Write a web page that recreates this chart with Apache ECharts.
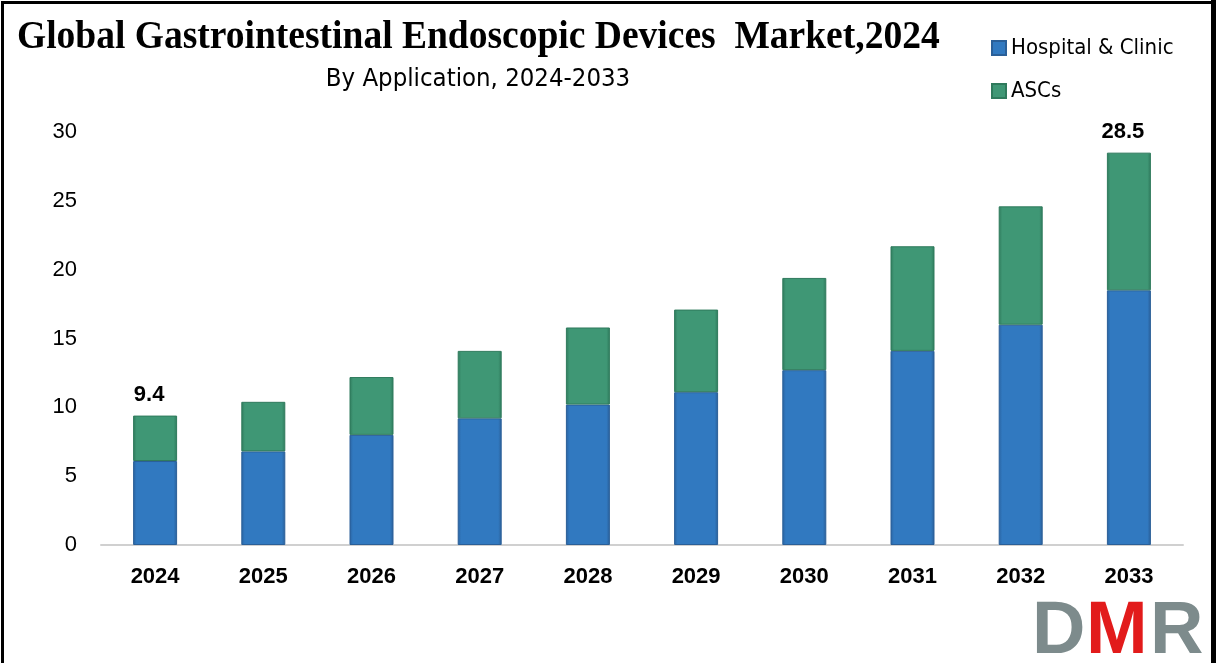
<!DOCTYPE html>
<html><head><meta charset="utf-8">
<script src="https://cdn.jsdelivr.net/npm/echarts@6/dist/echarts.min.js"></script>
<style>html,body{margin:0;padding:0;background:#fff}#c{width:1216px;height:663px}</style>
</head><body><div id="c"></div>
<script>
const years = ['2024','2025','2026','2027','2028','2029','2030','2031','2032','2033'];
const hospitalClinic = [6.1, 6.8, 8.0, 9.2, 10.2, 11.1, 12.7, 14.1, 16.0, 18.5];
const ascs = [3.3, 3.6, 4.2, 4.9, 5.6, 6.0, 6.7, 7.6, 8.6, 10.0];
const yTicks = [0, 5, 10, 15, 20, 25, 30];
const labeledYears = ['2024', '2033'];
const titleText = 'Global Gastrointestinal Endoscopic Devices  Market,2024';
const subtitleText = 'By Application, 2024-2033';

const chart = echarts.init(document.getElementById('c'));
const blueGrad = new echarts.graphic.LinearGradient(0,0,1,0,[
  {offset:0,color:'#2a63a0'},{offset:0.08,color:'#3179c0'},{offset:0.92,color:'#3179c0'},{offset:1,color:'#2a5f98'}]);
const greenGrad = new echarts.graphic.LinearGradient(0,0,1,0,[
  {offset:0,color:'#2f7a5c'},{offset:0.08,color:'#3f9775'},{offset:0.92,color:'#3f9775'},{offset:1,color:'#2f7a5c'}]);
chart.setOption({
  animation:false,
  backgroundColor:'#fff',
  legend:{
    orient:'vertical', left:991, top:37, itemGap:21, padding:0,
    itemWidth:14, itemHeight:14, icon:'rect',
    textStyle:{fontFamily:'DejaVu Sans Condensed',fontSize:22,color:'#000'},
    data:['Hospital & Clinic','ASCs']
  },
  grid:{left:101, right:33, top:132, bottom:118, containLabel:false},
  xAxis:{
    type:'category', data:years,
    axisLine:{lineStyle:{color:'#d0d0d0',width:2}},
    axisTick:{show:false},
    axisLabel:{fontFamily:'Liberation Sans',fontWeight:'bold',fontSize:22,color:'#000',margin:21}
  },
  yAxis:{
    type:'value', min:0, max:30, interval:5,
    axisLine:{show:false}, axisTick:{show:false}, splitLine:{show:false},
    axisLabel:{fontFamily:'Liberation Sans',fontSize:22,color:'#000',margin:24,align:'right',
      formatter:v=>yTicks.includes(v)?String(v):''}
  },
  series:[{
    name:'Hospital & Clinic', type:'bar', stack:'t', barWidth:44, data:hospitalClinic,
    itemStyle:{color:blueGrad, borderColor:'#2a5f98', borderWidth:1}
  },{
    name:'ASCs', type:'bar', stack:'t', barWidth:44, data:ascs,
    itemStyle:{color:greenGrad, borderColor:'#2f7a5c', borderWidth:1},
    label:{show:true, position:'top', distance:10, offset:[-6,0],
      fontFamily:'Liberation Sans', fontWeight:'bold', fontSize:22, color:'#000',
      formatter:p=>labeledYears.includes(p.name)?(hospitalClinic[p.dataIndex]+ascs[p.dataIndex]).toFixed(1):''}
  }],
  graphic:[
    {type:'text', x:17, y:38, scaleX:0.938, silent:true,
      style:{text:titleText, font:'bold 40px Liberation Serif', fill:'#000', verticalAlign:'middle'}},
    {type:'text', x:478, y:79, silent:true,
      style:{text:subtitleText, font:'25.5px DejaVu Sans Condensed', fill:'#000', align:'center', verticalAlign:'middle'}},
    {type:'rect', left:0, top:0, shape:{width:1215, height:662}, style:{fill:'none', stroke:'#000', lineWidth:3}, silent:true},
    {type:'rect', left:1211, top:0, shape:{width:5, height:663}, style:{fill:'#000'}, silent:true},
    {type:'text', left:1032, top:596, style:{text:'D', font:'bold 74px Liberation Sans', fill:'#7d8b8c'}},
    {type:'text', left:1086, top:596, style:{text:'M', font:'bold 74px Liberation Sans', fill:'#e21b1b'}},
    {type:'text', left:1150, top:596, style:{text:'R', font:'bold 74px Liberation Sans', fill:'#7d8b8c'}}
  ]
});
</script></body></html>
